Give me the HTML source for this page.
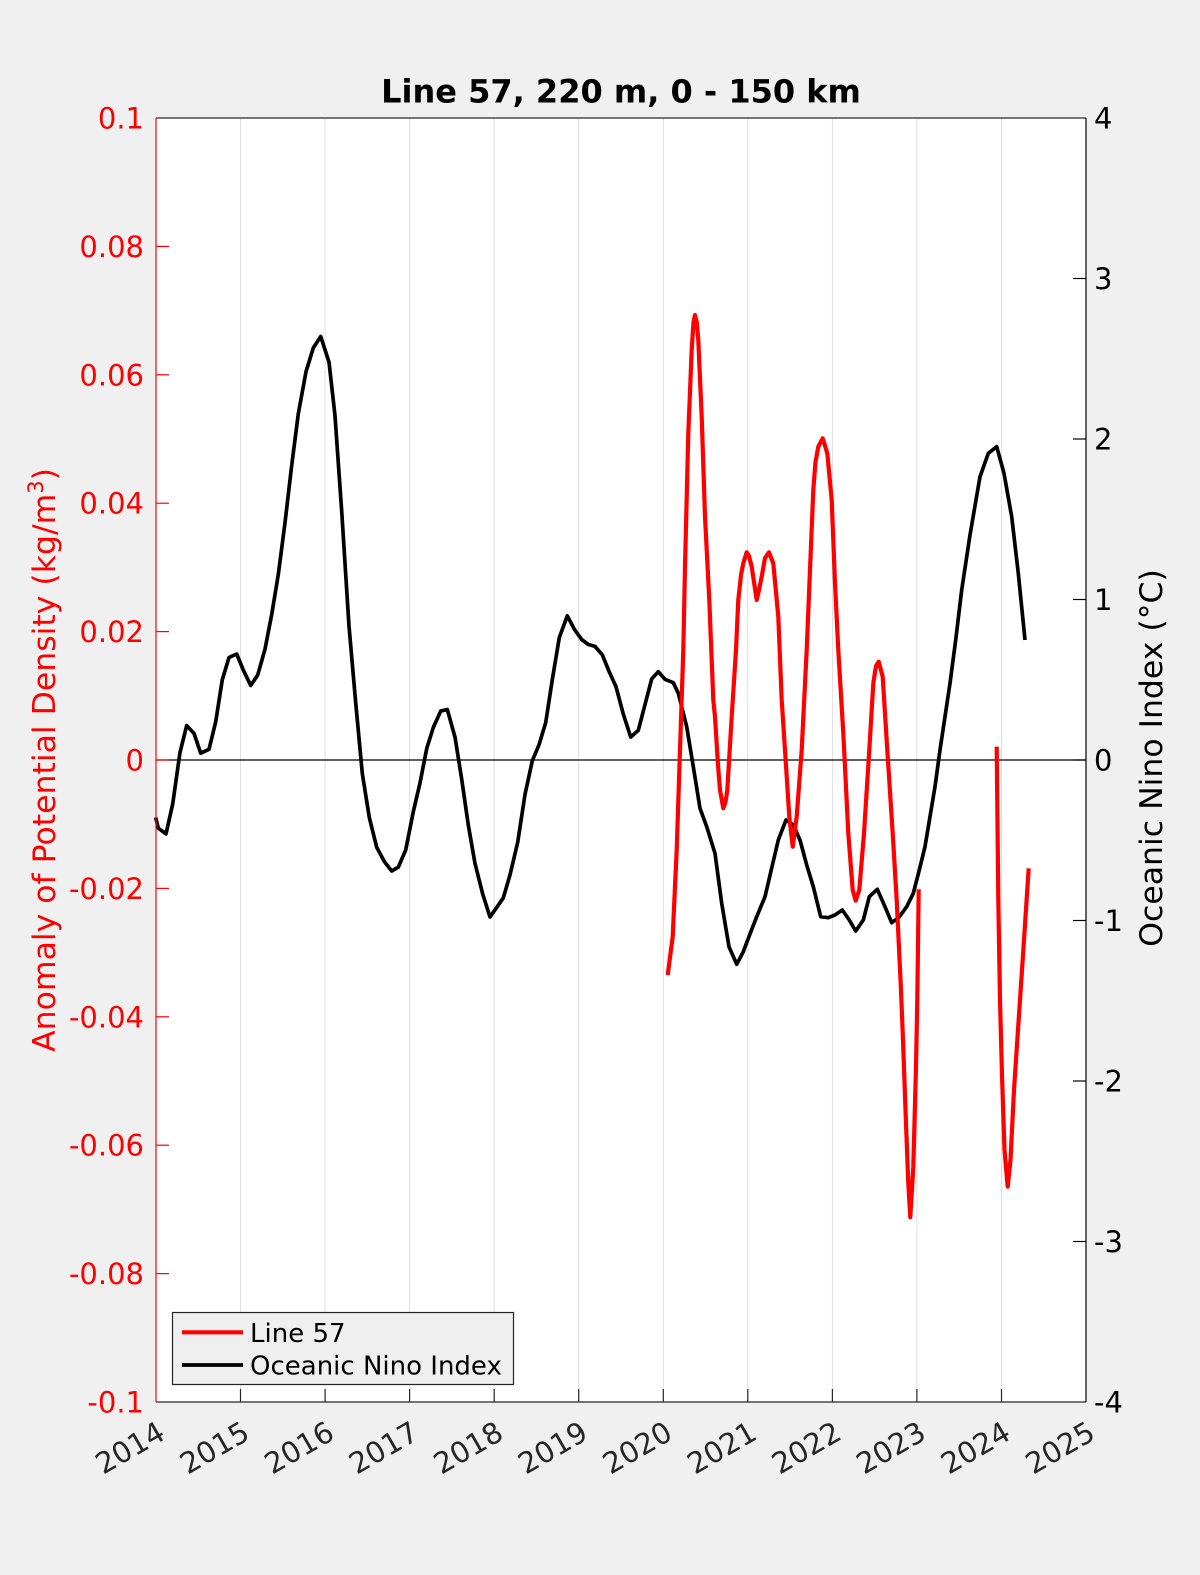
<!DOCTYPE html>
<html><head><meta charset="utf-8"><style>
html,body{margin:0;padding:0;background:#f0f0f0;}
svg{display:block;}
text{font-family:"DejaVu Sans","Liberation Sans",sans-serif;}
</style></head><body>
<svg width="1200" height="1575" viewBox="0 0 1200 1575" xmlns="http://www.w3.org/2000/svg">
<rect x="0" y="0" width="1200" height="1575" fill="#f0f0f0"/>
<rect x="156" y="118" width="930" height="1284" fill="#ffffff"/>
<!-- grid -->
<g stroke="#dedede" stroke-width="1">
<line x1="240.5" y1="118" x2="240.5" y2="1402"/>
<line x1="325.1" y1="118" x2="325.1" y2="1402"/>
<line x1="409.6" y1="118" x2="409.6" y2="1402"/>
<line x1="494.2" y1="118" x2="494.2" y2="1402"/>
<line x1="578.7" y1="118" x2="578.7" y2="1402"/>
<line x1="663.3" y1="118" x2="663.3" y2="1402"/>
<line x1="747.8" y1="118" x2="747.8" y2="1402"/>
<line x1="832.4" y1="118" x2="832.4" y2="1402"/>
<line x1="916.9" y1="118" x2="916.9" y2="1402"/>
<line x1="1001.5" y1="118" x2="1001.5" y2="1402"/>
</g>
<!-- zero line -->
<line x1="156" y1="760" x2="1086" y2="760" stroke="#000" stroke-width="1.2"/>
<!-- black ONI -->
<polyline fill="none" stroke="#000" stroke-width="3.7" stroke-linejoin="round" stroke-linecap="butt" points="
155.7,817.5 158.3,828.2 166,833.9 172.7,804 180,752.4 186.7,725.6 194,733.4 200.7,753.2 209,749.3 215.7,721.8 222.3,679.7 229,657.5 236.7,654 243.3,670.1 250.7,685.4 257.7,675.1 265,649.1 271.7,614.6 278.3,574.5 285,522.8 291.7,465.4 298.3,413.8 306,371.7 313.3,347.9 320.7,336.5 329,362.1 335,415.7 341.7,511.3 349,626.1 355.7,702.7 362.3,773.5 369.3,817.5 376.7,847.3 384.3,861.5 391.7,871 398.3,867.2 405.7,850 413.3,811.7 420,783 426.7,748.6 433.3,727.5 440.7,711.1 447.3,709.5 455,737.1 461.7,779.2 468.3,825.1 475,863.4 482.7,894 490,917 496.7,907.4 503.3,897.9 510,874.9 517.7,842.3 525,794.5 532.3,760.8 539,744.8 545.7,722.6 552.3,679.7 559.3,637.6 567.3,615.8 574.3,629.2 581.7,639.5 588.3,644.5 595,646.4 602.3,654.8 609.3,672 616,686.6 623.3,714.1 630.7,737.1 638.3,730.3 645,704.6 651.7,678.9 658.3,671.7 665,679.3 673.3,682.7 678.3,693.3 686.7,726.7 693.3,766.7 700,808.3 706.7,826.7 715,853.3 721.7,903.3 729,946.7 736.7,964.3 743.3,951.7 750,934 756.7,916.7 765,896.7 771.7,868 778.3,840 786,820 793.3,825 800,840 806.7,865 813.3,886.7 820.7,916.7 828.3,917.7 835,915 842.3,910 849.3,920 855.7,931 863.3,920 869.3,896.7 877.3,889.3 885,906.7 891.7,922.7 899,917.3 906.7,906.7 913.3,893.3 919.3,870 925,846.7 930,816.7 935,786.7 940,750 945,716.7 950,683.3 955.7,640 961.7,590 970,535 980,476.7 988.3,453.3 996.7,446.7 1004,473.3 1011.7,516.7 1018.3,573.3 1025,640"/>
<!-- red Line 57 -->
<polyline fill="none" stroke="#ff0000" stroke-width="4.2" stroke-linejoin="round" stroke-linecap="butt" points="
667.7,975 672.7,936.7 676.7,850 680,750 683.3,650 685,566.7 688.3,433.3 691.7,350 693.5,322 695,315 696.7,322 698.3,340 701.7,416.7 705,516.7 709.3,600 713.3,700 715,716.7 718,765 720,790 723.3,808.3 725.5,802 727.3,790 731.7,716.7 736,650 738.3,600 741,575 743.3,563.3 746.7,552.3 749,556 751.7,566.7 756.7,600 759,590 761.7,576.7 765,558 769,552.3 773.3,563.3 778.3,616.7 781.7,700 785,750 789.3,816.7 792.7,846.7 796.7,816.7 801.7,750 806.7,650 810,570 813.3,490 815.5,462 818.3,446.7 822.7,438.3 827.3,453.3 831.7,500 835,583.3 838.3,650 843.3,733.3 848.3,833.3 852.7,890 855.7,900.7 859.3,890 864,833.3 869.3,750 873.3,683.3 876,666 878.7,661.7 882.7,676.7 887.3,750 892.7,833.3 896.7,900 900.7,983.3 903,1040 905.5,1110 908.3,1183.3 910.3,1217.3 913.3,1166.7 916,1066.7 917.3,1000 918.7,889.3"/>
<polyline fill="none" stroke="#ff0000" stroke-width="4.2" stroke-linejoin="round" stroke-linecap="butt" points="
996.7,746.7 998.3,900 1000,1000 1002,1075 1004.5,1150 1007.7,1186.7 1010.5,1160 1014,1090 1018,1030 1023,955 1028.7,868.3"/>
<!-- axes box -->
<line x1="156" y1="118" x2="1086" y2="118" stroke="#262626" stroke-width="1.2"/>
<line x1="156" y1="1402" x2="1086" y2="1402" stroke="#262626" stroke-width="1.2"/>
<line x1="156" y1="118" x2="156" y2="1402" stroke="#ff0000" stroke-width="1.2"/>
<line x1="1086" y1="118" x2="1086" y2="1402" stroke="#000" stroke-width="1.2"/>
<!-- left ticks -->
<g stroke="#ff0000" stroke-width="1.2">
<line x1="156" y1="246.4" x2="169" y2="246.4"/>
<line x1="156" y1="374.8" x2="169" y2="374.8"/>
<line x1="156" y1="503.2" x2="169" y2="503.2"/>
<line x1="156" y1="631.6" x2="169" y2="631.6"/>
<line x1="156" y1="760" x2="169" y2="760"/>
<line x1="156" y1="888.4" x2="169" y2="888.4"/>
<line x1="156" y1="1016.8" x2="169" y2="1016.8"/>
<line x1="156" y1="1145.2" x2="169" y2="1145.2"/>
<line x1="156" y1="1273.6" x2="169" y2="1273.6"/>
</g>
<!-- right ticks -->
<g stroke="#000" stroke-width="1.2">
<line x1="1073" y1="278.5" x2="1086" y2="278.5"/>
<line x1="1073" y1="439" x2="1086" y2="439"/>
<line x1="1073" y1="599.5" x2="1086" y2="599.5"/>
<line x1="1073" y1="760" x2="1086" y2="760"/>
<line x1="1073" y1="920.5" x2="1086" y2="920.5"/>
<line x1="1073" y1="1081" x2="1086" y2="1081"/>
<line x1="1073" y1="1241.5" x2="1086" y2="1241.5"/>
</g>
<!-- bottom ticks -->
<g stroke="#262626" stroke-width="1.2">
<line x1="240.5" y1="1402" x2="240.5" y2="1389"/>
<line x1="325.1" y1="1402" x2="325.1" y2="1389"/>
<line x1="409.6" y1="1402" x2="409.6" y2="1389"/>
<line x1="494.2" y1="1402" x2="494.2" y2="1389"/>
<line x1="578.7" y1="1402" x2="578.7" y2="1389"/>
<line x1="663.3" y1="1402" x2="663.3" y2="1389"/>
<line x1="747.8" y1="1402" x2="747.8" y2="1389"/>
<line x1="832.4" y1="1402" x2="832.4" y2="1389"/>
<line x1="916.9" y1="1402" x2="916.9" y2="1389"/>
<line x1="1001.5" y1="1402" x2="1001.5" y2="1389"/>
</g>
<!-- left tick labels -->
<g fill="#ff0000" font-size="29" text-anchor="end">
<text x="144" y="128.5">0.1</text>
<text x="144" y="256.9">0.08</text>
<text x="144" y="385.3">0.06</text>
<text x="144" y="513.7">0.04</text>
<text x="144" y="642.1">0.02</text>
<text x="144" y="770.5">0</text>
<text x="144" y="898.9">-0.02</text>
<text x="144" y="1027.3">-0.04</text>
<text x="144" y="1155.7">-0.06</text>
<text x="144" y="1284.1">-0.08</text>
<text x="144" y="1412.5">-0.1</text>
</g>
<!-- right tick labels -->
<g fill="#000" font-size="29" text-anchor="start">
<text x="1094" y="128.5">4</text>
<text x="1094" y="289">3</text>
<text x="1094" y="449.5">2</text>
<text x="1094" y="610">1</text>
<text x="1094" y="770.5">0</text>
<text x="1094" y="931">-1</text>
<text x="1094" y="1091.5">-2</text>
<text x="1094" y="1252">-3</text>
<text x="1094" y="1412.5">-4</text>
</g>
<!-- x tick labels -->
<g fill="#262626" font-size="29" text-anchor="end">
<text x="167" y="1438" transform="rotate(-30 167 1438)">2014</text>
<text x="251.5" y="1438" transform="rotate(-30 251.5 1438)">2015</text>
<text x="336.1" y="1438" transform="rotate(-30 336.1 1438)">2016</text>
<text x="420.6" y="1438" transform="rotate(-30 420.6 1438)">2017</text>
<text x="505.2" y="1438" transform="rotate(-30 505.2 1438)">2018</text>
<text x="589.7" y="1438" transform="rotate(-30 589.7 1438)">2019</text>
<text x="674.3" y="1438" transform="rotate(-30 674.3 1438)">2020</text>
<text x="758.8" y="1438" transform="rotate(-30 758.8 1438)">2021</text>
<text x="843.4" y="1438" transform="rotate(-30 843.4 1438)">2022</text>
<text x="927.9" y="1438" transform="rotate(-30 927.9 1438)">2023</text>
<text x="1012.5" y="1438" transform="rotate(-30 1012.5 1438)">2024</text>
<text x="1097" y="1438" transform="rotate(-30 1097 1438)">2025</text>
</g>
<!-- title -->
<text x="621" y="102.5" font-size="32" font-weight="bold" text-anchor="middle" fill="#000">Line 57, 220 m, 0 - 150 km</text>
<!-- y labels -->
<text x="55" y="760" font-size="31.5" fill="#ff0000" text-anchor="middle" transform="rotate(-90 55 760)">Anomaly of Potential Density (kg/m<tspan dy="-12" font-size="21">3</tspan><tspan dy="12">)</tspan></text>
<text x="1162" y="758" font-size="31.5" fill="#000" text-anchor="middle" transform="rotate(-90 1162 758)">Oceanic Nino Index (°C)</text>
<!-- legend -->
<rect x="172.5" y="1312.5" width="341" height="72" fill="#efefef" stroke="#262626" stroke-width="1.2"/>
<line x1="182" y1="1332.3" x2="243" y2="1332.3" stroke="#ff0000" stroke-width="4.2"/>
<line x1="182" y1="1365" x2="243" y2="1365" stroke="#000" stroke-width="3.7"/>
<text x="250" y="1342" font-size="26" fill="#000">Line 57</text>
<text x="250" y="1374.5" font-size="26" fill="#000">Oceanic Nino Index</text>
</svg>
</body></html>
